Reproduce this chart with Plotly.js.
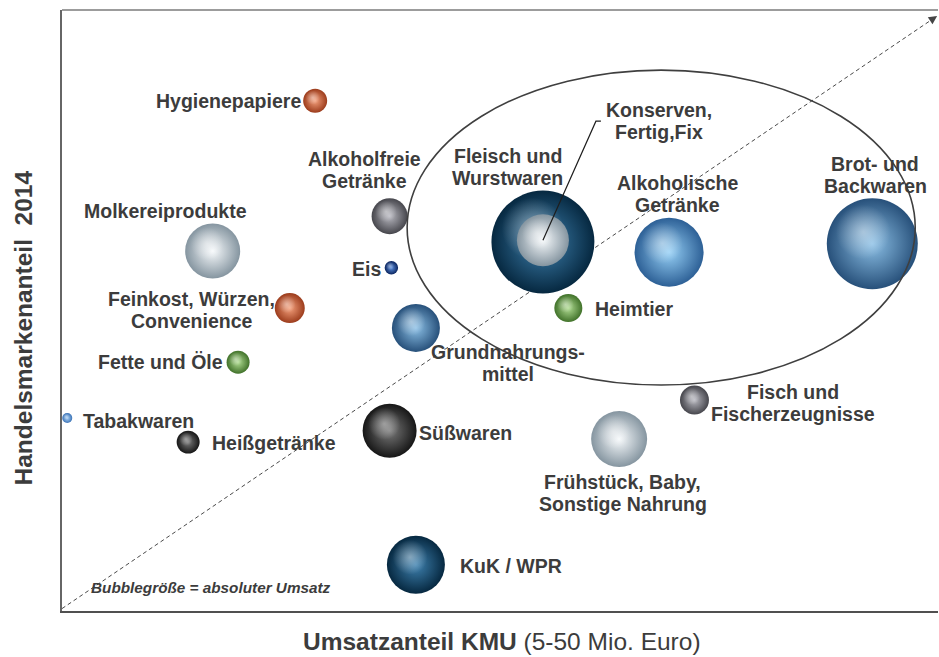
<!DOCTYPE html>
<html><head><meta charset="utf-8">
<script src="https://cdn.plot.ly/plotly-3.0.1.min.js"></script>
<style>html,body{margin:0;padding:0;background:#fff}#chart{width:939px;height:657px}</style>
</head><body><div id="chart"></div>
<script>
// ---- data ----
const kategorien = ['Hygienepapiere','Alkoholfreie<br>Getränke','Molkereiprodukte','Eis','Feinkost, Würzen,<br>Convenience','Grundnahrungs-<br>mittel','Fette und Öle','Tabakwaren','Heißgetränke','Süßwaren','KuK / WPR','Fleisch und<br>Wurstwaren','Konserven,<br>Fertig,Fix','Alkoholische<br>Getränke','Brot- und<br>Backwaren','Heimtier','Fisch und<br>Fischerzeugnisse','Frühstück, Baby,<br>Sonstige Nahrung'];
const umsatzanteilKMU = [28.9,37.4,17.2,37.6,26.0,40.4,20.1,0.6,14.4,37.4,40.4,54.9,54.9,69.3,92.5,57.8,72.2,63.6];
const handelsmarkenanteil = [84.9,65.7,59.9,57.1,50.4,47.1,41.4,32.1,28.1,30.0,7.7,61.4,61.7,59.7,61.1,50.4,35.1,28.6];
const absoluterUmsatz = [1.44,3.24,7.56,0.45,2.25,5.76,1.32,0.25,1.32,7.29,8.41,26.5,6.76,11.9,20.7,1.96,2.1,7.84];
const farbgruppe = ['kupfer','grau','silber','eis','kupfer','stahl','gruen','tabak','dunkel','dunkel','navy','navy','silber','hellblau','stahl','gruen','grau','silber'];

// ---- styles ----
const palette = {
  kupfer:['#f4a07c','#9c3c1c'], grau:['#b8b8c0','#46464c'], silber:['#f6f9fb','#8595a0'],
  dunkel:['#7a7a7a','#161616'], stahl:['#8cc0e6','#27507a'], hellblau:['#96d0f6','#2d6096'],
  navy:['#3f82b0','#062840'], gruen:['#b0dc92','#41722a'], eis:['#5c8edc','#0a245e'], tabak:['#acd2f6','#3a72b6']
};
const labelPlacement = [
 {dx:-12,dy:0,a:'right'},{dx:-25,dy:-46,a:'center'},{dx:-47,dy:-40,a:'center'},{dx:-8,dy:1,a:'right'},
 {dx:-98,dy:2,a:'center'},{dx:92,dy:35,a:'center'},{dx:-13,dy:0,a:'right'},{dx:14,dy:3,a:'left'},
 {dx:22,dy:1,a:'left'},{dx:27,dy:2,a:'left'},{dx:42,dy:1,a:'left'},{dx:-35,dy:-75,a:'center'},
 {dx:116.5,dy:-119,a:'center'},{dx:8.5,dy:-58.5,a:'center'},{dx:3,dy:-69,a:'center'},{dx:25,dy:1,a:'left'},
 {dx:98.5,dy:2.5,a:'center'},{dx:3.5,dy:53.5,a:'center'}
];
const W=939,H=657,M={l:62,r:1,t:10,b:46};
const pxX=(W-M.l-M.r)/100, pxY=(H-M.t-M.b)/100;
const SIZEREF=0.005;
const FONT='Liberation Sans, Arial, sans-serif';
const TXT='#3c3c3c';

// ---- traces ----
const order = absoluterUmsatz.map((v,i)=>i).sort((a,b)=>absoluterUmsatz[b]-absoluterUmsatz[a]);
const traces=[];
order.forEach(i=>{
  const pal=palette[farbgruppe[i]];
  const d=2*Math.sqrt(absoluterUmsatz[i]/(2*SIZEREF));
  traces.push({type:'scatter',mode:'markers',x:[umsatzanteilKMU[i]],y:[handelsmarkenanteil[i]],
    text:[kategorien[i].replace('<br>',' ')],hoverinfo:'text',
    marker:{size:[absoluterUmsatz[i]],sizemode:'area',sizeref:SIZEREF,color:pal[1],
      gradient:{type:'radial',color:pal[0]},line:{width:0},opacity:1}});
  traces.push({type:'scatter',mode:'markers',
    x:[umsatzanteilKMU[i]-0.1*d/pxX],y:[handelsmarkenanteil[i]+0.13*d/pxY],hoverinfo:'skip',
    marker:{size:[absoluterUmsatz[i]*0.36],sizemode:'area',sizeref:SIZEREF,color:'rgba(255,255,255,0)',
      gradient:{type:'radial',color:'rgba(255,255,255,0.6)'},line:{width:0}}});
});

// ---- annotations ----
const ann=[];
kategorien.forEach((k,i)=>{
  const lines=k.split('<br>'); const p=labelPlacement[i]; const n=lines.length;
  lines.forEach((ln,j)=>{
    ann.push({x:umsatzanteilKMU[i],y:handelsmarkenanteil[i],xref:'x',yref:'y',text:ln,showarrow:false,
      xanchor:p.a,yanchor:'middle',xshift:p.dx,yshift:-(p.dy+(j-(n-1)/2)*22),
      font:{family:FONT,size:19.5,color:TXT,weight:'bold'}});
  });
});
// arrow head of diagonal
ann.push({x:99.9,y:99.0,xref:'x',yref:'y',text:'',showarrow:true,arrowhead:2,arrowsize:1.2,arrowwidth:1.4,
  arrowcolor:'#444',ax:-7,ay:4.7,standoff:0});
// axis titles & note
ann.push({xref:'paper',yref:'paper',x:(502-M.l)/(W-M.l-M.r),y:(H-M.b-641)/(H-M.t-M.b),
  text:'<b>Umsatzanteil KMU</b> (5-50 Mio. Euro)',showarrow:false,xanchor:'center',yanchor:'middle',
  font:{family:FONT,size:24.5,color:TXT}});
ann.push({xref:'paper',yref:'paper',x:(22.5-M.l)/(W-M.l-M.r),y:(H-M.b-328)/(H-M.t-M.b),
  text:'<b>Handelsmarkenanteil  2014</b>',textangle:-90,showarrow:false,xanchor:'center',yanchor:'middle',
  font:{family:FONT,size:24.5,color:TXT}});
ann.push({xref:'paper',yref:'paper',x:(211-M.l)/(W-M.l-M.r),y:(H-M.b-587)/(H-M.t-M.b),
  text:'<b><i>Bubblegröße = absoluter Umsatz</i></b>',showarrow:false,xanchor:'center',yanchor:'middle',
  font:{family:FONT,size:15.3,color:TXT}});

// ---- shapes ----
const ellipse={x0:39.4,x1:97.4,y0:37.6,y1:90.0};
const iK=12;
const shapes=[
  {type:'line',xref:'x',yref:'y',x0:0,y0:0.4,x1:99.9,y1:99.0,line:{color:'#4a4a4a',width:1,dash:'4px,3px'},layer:'below'},
  {type:'circle',xref:'x',yref:'y',x0:ellipse.x0,x1:ellipse.x1,y0:ellipse.y0,y1:ellipse.y1,line:{color:'#3f3f3f',width:1.6},layer:'above'},
  {type:'path',xref:'x',yref:'y',xsizemode:'pixel',ysizemode:'pixel',xanchor:umsatzanteilKMU[iK],yanchor:handelsmarkenanteil[iK],
    path:'M0,0 L53,119 L58,119',line:{color:'#1e1e1e',width:1.2},layer:'above'},
  {type:'line',xref:'paper',yref:'paper',x0:0,x1:1,y0:1,y1:1,line:{color:'#9c9c9c',width:2},layer:'above'}
];

const ax={range:[0,100],showgrid:false,zeroline:false,showticklabels:false,ticks:'',showline:true,linewidth:1.6,fixedrange:true};
const layout={width:W,height:H,margin:M,paper_bgcolor:'#fff',plot_bgcolor:'#fff',showlegend:false,
  xaxis:Object.assign({},ax,{linecolor:'#505050'}),yaxis:Object.assign({},ax,{linecolor:'#666666'}),
  annotations:ann,shapes:shapes,font:{family:FONT,color:TXT}};
Plotly.newPlot('chart',traces,layout,{displayModeBar:false,staticPlot:true});
</script></body></html>
